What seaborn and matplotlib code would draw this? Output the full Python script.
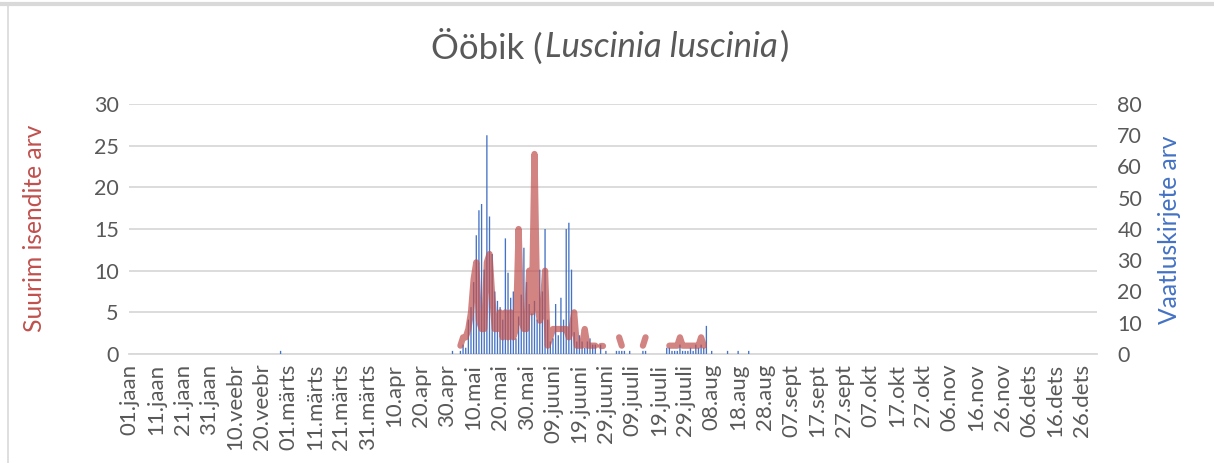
import numpy as np
import pandas as pd
import matplotlib
matplotlib.use("Agg")
import matplotlib.pyplot as plt
from matplotlib.lines import Line2D
import seaborn as sns

# day of year (0 = 01.jaan, 2020 is a leap year) and number of records that day
record_day = [57, 122, 125, 126, 127, 128, 129, 130, 131, 132, 133, 134, 135, 136, 137, 138, 139, 140,
              141, 142, 143, 144, 145, 146, 147, 148, 149, 150, 151, 152, 153, 154, 155, 156, 157, 158,
              159, 160, 161, 162, 163, 164, 165, 166, 167, 168, 169, 170, 171, 172, 173, 174, 175, 176,
              178, 180, 184, 185, 186, 187, 189, 194, 195, 203, 204, 205, 206, 207, 208, 209, 210, 211,
              212, 213, 214, 215, 216, 217, 218, 220, 226, 230, 234]
record_count = [1, 1, 1, 3, 2, 11, 15, 23, 38, 46, 48, 27, 70, 44, 32, 20, 17, 15,
                11, 37, 26, 18, 20, 5, 12, 19, 34, 23, 16, 13, 17, 11, 27, 20, 40, 11,
                4, 5, 16, 6, 18, 11, 40, 42, 27, 7, 4, 6, 4, 2, 4, 5, 3, 3,
                3, 1, 1, 1, 1, 1, 1, 1, 1, 2, 2, 1, 1, 1, 3, 1, 1, 1,
                2, 1, 3, 2, 3, 2, 9, 1, 1, 1, 1]

# day of year and largest number of birds (days missing here break the line)
birds_day = list(range(125, 177)) + [178, 179, 185, 186, 194, 195] + list(range(204, 218))
birds_max = [1, 2, 2, 3, 5, 9, 11, 4, 3, 3,
             11, 12, 7, 3, 3, 5, 2, 5, 2, 5,
             2, 3, 15, 4, 3, 3, 10, 5, 24, 6,
             4, 5, 10, 1, 2, 3, 3, 3, 3, 3,
             3, 2, 3, 5, 1, 1, 1, 3, 1, 1,
             1, 1,
             1, 1, 2, 1, 1, 2,
             1, 1, 1, 1, 2, 1, 1, 1, 1, 1, 1, 1, 2, 1]

month_names = ["jaan", "veebr", "märts", "apr", "mai", "juuni",
               "juuli", "aug", "sept", "okt", "nov", "dets"]
tick_days = list(range(0, 361, 10))

W, H = 1214, 463
gray = "#595959"
red = "#C0504D"
blue = "#4472C4"

sns.set_theme(style="white")
plt.rcParams["font.family"] = ["Lato", "DejaVu Sans"]

fig = plt.figure(figsize=(W / 100, H / 100), dpi=100)
ax = fig.add_axes([128.5 / W, 109 / H, 968 / W, 250 / H])
ax2 = ax.twinx()
ax3 = ax.twinx()

# blue bars - number of records (right axis)
bars = pd.DataFrame({"day": record_day, "count": record_count})
sns.barplot(data=bars, x="day", y="count", native_scale=True, orient="x", width=0.5,
            color=blue, saturation=1, errorbar=None, linewidth=0, snap=False, ax=ax2)

# red line - max individuals (left axis)
birds = pd.DataFrame({"day": birds_day, "max": birds_max})
birds["seg"] = (birds["day"].diff() != 1).cumsum()
sns.lineplot(data=birds, x="day", y="max", units="seg", estimator=None, color=red,
             alpha=0.7, lw=4.5, solid_capstyle="round", solid_joinstyle="round",
             legend=False, ax=ax3)

ax.set_xlim(-0.5, 365.5)
ax.set_ylim(0, 30)
ax2.set_ylim(0, 80)
ax3.set_ylim(0, 30)

start = pd.Timestamp("2020-01-01")
tick_labels = []
for d in tick_days:
    t = start + pd.Timedelta(days=d)
    tick_labels.append(f"{t.day:02d}.{month_names[t.month - 1]}")
ax.set_xticks(tick_days)
ax.set_xticklabels(tick_labels, rotation=90)
ax.set_yticks(range(0, 31, 5))
ax2.set_yticks(range(0, 81, 10))
ax3.set_yticks([])

ax.grid(axis="y", color="#D9D9D9", lw=1.3)
ax.grid(axis="x", visible=False)
ax2.grid(False)
ax3.grid(False)

for a in (ax, ax2, ax3):
    for s in a.spines.values():
        s.set_visible(False)
ax.spines["bottom"].set_visible(True)
ax.spines["bottom"].set_color("#D9D9D9")
ax.spines["bottom"].set_linewidth(1.3)

ax.tick_params(axis="x", length=0, labelsize=16, labelcolor=gray, pad=7)
ax.tick_params(axis="y", length=0, labelsize=15.5, labelcolor=gray, pad=7)
ax2.tick_params(axis="y", length=0, labelsize=15.5, labelcolor=gray, pad=15)
for lab in ax2.get_yticklabels():
    lab.set_horizontalalignment("left")

ax.set_xlabel("")
ax2.set_xlabel("")
ax3.set_xlabel("")
ax3.set_ylabel("")
ax.set_ylabel("Suurim isendite arv", color=red, fontsize=17.7)
ax.yaxis.set_label_coords((46 - 128.5) / 968, 0.504)
ax2.set_ylabel("Vaatluskirjete arv", color=blue, fontsize=17.7)
ax2.yaxis.set_label_coords((1158 - 128.5) / 968, 0.496)

# title with italic latin name
r = fig.canvas.get_renderer()
parts = [("Ööbik (", "normal"), ("Luscinia luscinia", "italic"), (")", "normal")]
texts = [fig.text(0, 1 - 47 / H, s, style=st, fontsize=25, color=gray,
                  va="center", ha="left") for s, st in parts]
widths = [t.get_window_extent(r).width for t in texts]
x = 610 - sum(widths) / 2 - 2
for t, w in zip(texts, widths):
    t.set_x(x / W)
    x += w + 2

# chart frame
fig.add_artist(Line2D([0, 1], [1 - 3.5 / H] * 2, color="#D9D9D9", lw=3, transform=fig.transFigure))
fig.add_artist(Line2D([8 / W] * 2, [0, 1 - 3.5 / H], color="#D9D9D9", lw=1.2, transform=fig.transFigure))

fig.savefig("out.png", dpi=100)
